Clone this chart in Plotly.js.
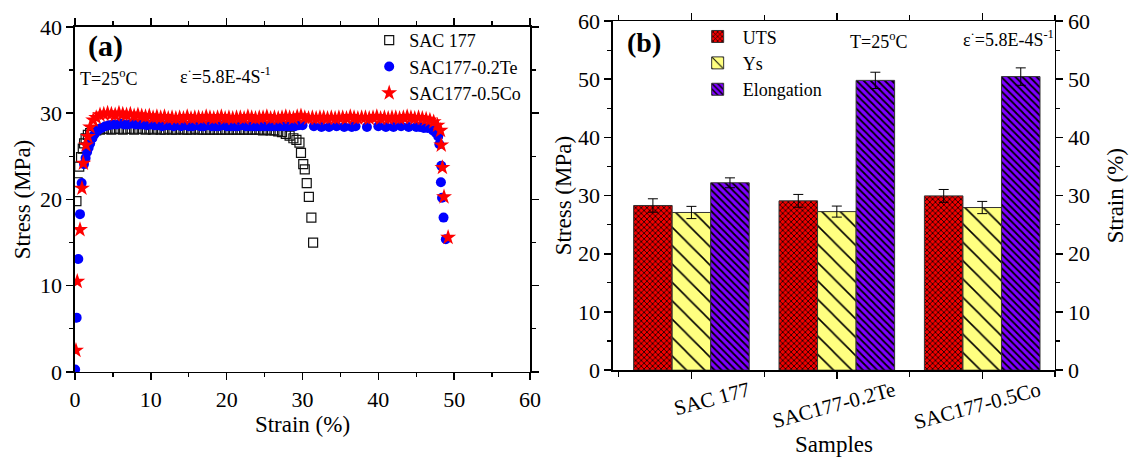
<!DOCTYPE html>
<html>
<head>
<meta charset="utf-8">
<script src="https://cdn.plot.ly/plotly-3.0.1.min.js"></script>
<style>html,body{margin:0;padding:0;background:#fff;}#chart{width:1143px;height:457px;}</style>
</head>
<body>
<div id="chart"></div>
<script>
// ---------- Panel (a): stress-strain curves ----------
const sacStrain = [0.19,0.35,0.56,0.80,1.03,1.20,1.40,1.70,2.00,2.40,2.80,3.30,3.80,
  4.3,4.8,5.3,5.8,6.3,6.8,7.3,7.8,8.3,8.8,9.3,9.8,10.3,10.8,11.3,11.8,12.3,12.8,13.3,13.8,
  14.3,14.8,15.3,15.8,16.3,16.8,17.3,17.8,18.3,18.8,19.3,19.8,20.3,20.8,21.3,21.8,22.3,22.8,
  23.3,23.8,24.3,24.8,25.3,25.8,26.3,26.8,27.3,27.8,28.3,28.8,
  29.2,29.6,29.8,30.1,30.3,30.56,30.84,31.17,31.4];
const sacStress = [19.8,22.0,23.8,24.9,25.9,26.5,27.1,27.5,27.7,27.9,28.0,28.1,28.2,
  28.2,28.1,28.2,28.2,28.1,28.2,28.2,28.1,28.2,28.2,28.1,28.2,28.1,28.2,28.1,28.1,28.2,28.1,28.1,28.2,
  28.1,28.1,28.1,28.2,28.1,28.1,28.1,28.1,28.1,28.1,28.1,28.1,28.1,28.1,28.1,28.1,28.1,28.1,
  28.1,28.1,28.1,28.0,28.1,28.0,28.0,27.9,27.8,27.6,27.4,27.1,
  26.9,26.6,25.4,24.1,23.5,21.9,20.3,17.9,15.0];

const teStrain = [0.02,0.22,0.44,0.66,0.88,1.19,1.40,1.60,1.80,2.00,2.30,2.60,3.00,3.50,
  4.0,4.5,5.0,5.5,6.0,6.5,7.0,7.5,8.0,8.5,9.0,9.5,10.0,
  10.5,11.0,11.5,12.0,12.5,13.0,13.5,14.0,14.5,15.0,15.5,16.0,16.5,17.0,17.5,18.0,18.5,19.0,19.5,20.0,
  20.5,21.0,21.5,22.0,22.5,23.0,23.5,24.0,24.5,25.0,25.5,26.0,26.5,27.0,27.5,28.0,28.5,29.0,29.5,30.0,
  31.5,32.5,33.5,34.5,35.5,36.5,37.0,38.5,40.0,41.0,42.0,43.0,44.0,45.0,45.5,46.0,46.5,
  47.2,47.6,47.9,48.05,48.3,48.25,48.4,48.6,48.9];
const teStress = [0.3,6.3,13.1,18.3,21.9,24.1,24.8,25.5,26.0,26.5,27.1,27.6,28.0,28.3,
  28.5,28.6,28.7,28.7,28.8,28.7,28.7,28.8,28.7,28.7,28.7,28.6,28.7,
  28.6,28.6,28.5,28.6,28.6,28.5,28.6,28.5,28.6,28.5,28.5,28.6,28.5,28.5,28.6,28.5,28.5,28.5,28.6,28.5,
  28.5,28.5,28.5,28.6,28.5,28.5,28.5,28.5,28.5,28.5,28.5,28.5,28.5,28.5,28.5,28.5,28.5,28.5,28.6,28.6,
  28.5,28.4,28.4,28.5,28.4,28.4,28.5,28.4,28.5,28.4,28.4,28.5,28.4,28.4,28.4,28.3,28.3,
  28.0,27.7,27.3,26.4,23.9,22.0,20.2,17.9,15.4];

const coStrain = [0.13,0.30,0.66,0.92,1.10,1.45,1.70,2.00,2.40,2.80,3.30,
  3.8,4.3,4.8,5.3,5.8,6.3,6.8,7.3,7.8,8.3,8.8,9.3,9.8,10.3,10.8,11.3,11.8,12.3,12.8,13.3,
  13.8,14.3,14.8,15.3,15.8,16.3,16.8,17.3,17.8,18.3,18.8,19.3,19.8,20.3,20.8,21.3,21.8,22.3,22.8,23.3,
  23.8,24.3,24.8,25.3,25.8,26.3,26.8,27.3,27.8,28.3,28.8,29.3,29.8,30.3,30.8,31.3,31.8,32.3,32.8,33.3,
  33.8,34.3,34.8,35.3,35.8,36.3,36.8,37.3,37.8,38.3,38.8,39.3,39.8,40.3,40.8,41.3,41.8,42.3,42.8,43.3,
  43.8,44.3,44.8,45.3,45.8,46.3,46.8,47.3,
  47.8,48.2,48.3,48.45,48.66,49.2];
const coStress = [2.5,10.5,16.5,21.3,24.2,26.3,27.3,28.4,29.2,29.5,29.8,
  29.9,30.0,29.9,29.8,30.0,29.9,29.8,29.9,29.7,29.8,29.7,29.6,29.7,29.5,29.6,29.5,29.6,29.4,29.5,29.4,
  29.5,29.4,29.6,29.4,29.5,29.5,29.4,29.6,29.5,29.4,29.5,29.6,29.4,29.5,29.4,29.5,29.5,29.4,29.6,29.5,
  29.4,29.5,29.5,29.6,29.4,29.5,29.4,29.5,29.6,29.5,29.4,29.6,29.7,29.5,29.4,29.5,29.4,29.5,29.5,29.4,
  29.5,29.4,29.5,29.5,29.4,29.6,29.5,29.4,29.5,29.5,29.4,29.5,29.6,29.4,29.5,29.4,29.5,29.5,29.4,29.5,
  29.6,29.5,29.4,29.5,29.4,29.3,29.2,29.0,
  28.6,28.0,26.3,23.7,20.3,15.6];

// ---------- Panel (b): property bars ----------
const samples = ['SAC 177','SAC177-0.2Te','SAC177-0.5Co'];
const utsVals = [28.3,29.1,29.95];
const utsErr  = [1.15,1.1,1.1];
const ysVals  = [27.1,27.25,27.95];
const ysErr   = [1.05,0.95,1.05];
const elongVals = [32.2,49.8,50.45];
const elongErr  = [0.85,1.4,1.5];

const FONT = 'Liberation Serif, Times New Roman, serif';
const samplePos = samples.map((_, i) => i);

const traces = [
  {type:'scatter', mode:'markers', name:'SAC 177', x:sacStrain, y:sacStress, xaxis:'x', yaxis:'y',
   marker:{symbol:'square-open', size:9, color:'#111', line:{width:1.2, color:'#111'}}, legend:'legend'},
  {type:'scatter', mode:'markers', name:'SAC177-0.2Te', x:teStrain, y:teStress, xaxis:'x', yaxis:'y',
   marker:{symbol:'circle', size:10, color:'#0000FF'}, legend:'legend'},
  {type:'scatter', mode:'markers', name:'SAC177-0.5Co', x:coStrain, y:coStress, xaxis:'x', yaxis:'y',
   marker:{symbol:'star', size:12, color:'#FF0000'}, legend:'legend'},
  {type:'bar', name:'UTS', x:samplePos, y:utsVals, xaxis:'x2', yaxis:'y2', width:0.265, offset:-0.398,
   marker:{color:'#FF0000', line:{color:'#333', width:1},
     pattern:{shape:'x', size:4, solidity:0.35, fgcolor:'#000', bgcolor:'#F00000', fillmode:'replace'}},
   error_y:{type:'data', array:utsErr, visible:true, color:'#000', thickness:1, width:5}, legend:'legend2'},
  {type:'bar', name:'Ys', x:samplePos, y:ysVals, xaxis:'x2', yaxis:'y2', width:0.265, offset:-0.133,
   marker:{color:'#FFFF80', line:{color:'#333', width:1},
     pattern:{shape:'\\', size:13, solidity:0.12, fgcolor:'#000', bgcolor:'#FFFF80', fillmode:'replace'}},
   error_y:{type:'data', array:ysErr, visible:true, color:'#000', thickness:1, width:5}, legend:'legend2'},
  {type:'bar', name:'Elongation', x:samplePos, y:elongVals, xaxis:'x2', yaxis:'y3', width:0.265, offset:0.132,
   marker:{color:'#7F00FF', line:{color:'#333', width:1},
     pattern:{shape:'\\', size:5, solidity:0.35, fgcolor:'#000', bgcolor:'#7F00FF', fillmode:'replace'}},
   error_y:{type:'data', array:elongErr, visible:true, color:'#000', thickness:1, width:5}, legend:'legend2'}
];

const TICKF = {family:FONT, size:22, color:'#000'};
const TITLEF = {family:FONT, size:23, color:'#000'};
const MINOR = {dtick:5, ticklen:4, ticks:'outside', tickwidth:1.2, tickcolor:'#000'};
const axBase = {showline:true, linewidth:1.5, linecolor:'#000', ticks:'outside', ticklen:7, tickwidth:1.5,
  tickcolor:'#000', showgrid:false, zeroline:false, tickfont:TICKF};

const annotations = [
  {xref:'paper', yref:'paper', x:0.075, y:0.94, xanchor:'left', yanchor:'top', showarrow:false,
   text:'<b>(a)</b>', font:{family:FONT, size:30}},
  {xref:'paper', yref:'paper', x:0.068, y:0.86, xanchor:'left', yanchor:'top', showarrow:false,
   text:'T=25<sup>o</sup>C', font:{family:FONT, size:18}},
  {xref:'paper', yref:'paper', x:0.156, y:0.865, xanchor:'left', yanchor:'top', showarrow:false,
   text:'ε<sup>·</sup>=5.8E-4S<sup>-1</sup>', font:{family:FONT, size:18}},
  {xref:'paper', yref:'paper', x:0.547, y:0.945, xanchor:'left', yanchor:'top', showarrow:false,
   text:'<b>(b)</b>', font:{family:FONT, size:28}},
  {xref:'paper', yref:'paper', x:0.742, y:0.94, xanchor:'left', yanchor:'top', showarrow:false,
   text:'T=25<sup>o</sup>C', font:{family:FONT, size:18}},
  {xref:'paper', yref:'paper', x:0.841, y:0.945, xanchor:'left', yanchor:'top', showarrow:false,
   text:'ε<sup>·</sup>=5.8E-4S<sup>-1</sup>', font:{family:FONT, size:18}}
];

const layout = {
  width:1143, height:457, margin:{l:0, r:0, t:0, b:0},
  paper_bgcolor:'#fff', plot_bgcolor:'#fff',
  font:{family:FONT, size:18, color:'#000'},
  barmode:'overlay',
  xaxis:Object.assign({}, axBase, {domain:[0.0656,0.4637], range:[0,60], dtick:10, anchor:'y', mirror:'ticks',
    minor:MINOR, title:{text:'Strain (%)', font:TITLEF, standoff:2}}),
  yaxis:Object.assign({}, axBase, {domain:[0.186,0.941], range:[0,40], dtick:10, anchor:'x', mirror:'ticks',
    minor:MINOR, title:{text:'Stress (MPa)', font:TITLEF, standoff:3}}),
  xaxis2:Object.assign({}, axBase, {domain:[0.5363,0.923], range:[-0.54,2.5], tickmode:'array', tickvals:samplePos,
    ticktext:samples, tickangle:-15, ticklabelshift:57, ticklabelstandoff:-8,
    tickfont:{family:FONT, size:21, color:'#000'}, anchor:'y2', mirror:'ticks',
    minor:{tick0:0.5, dtick:1, ticklen:5, ticks:'outside', tickwidth:1.2, tickcolor:'#000'},
    title:{text:'Samples', font:TITLEF, standoff:8}}),
  yaxis2:Object.assign({}, axBase, {domain:[0.19,0.954], range:[0,60], dtick:10, anchor:'x2', side:'left',
    minor:MINOR, title:{text:'Stress (MPa)', font:TITLEF, standoff:0}}),
  yaxis3:Object.assign({}, axBase, {range:[0,60], dtick:10, anchor:'x2', overlaying:'y2', side:'right',
    minor:MINOR, title:{text:'Strain (%)', font:TITLEF, standoff:18}}),
  legend:{x:0.323, y:0.952, xanchor:'left', yanchor:'top', bgcolor:'rgba(0,0,0,0)',
    font:{family:FONT, size:18, color:'#000'}, tracegroupgap:0, itemwidth:30},
  legend2:{x:0.606, y:0.96, xanchor:'left', yanchor:'top', bgcolor:'rgba(0,0,0,0)',
    font:{family:FONT, size:18, color:'#000'}, tracegroupgap:0, itemwidth:40},
  annotations:annotations
};

Plotly.newPlot('chart', traces, layout, {displayModeBar:false, staticPlot:true});
</script>
</body>
</html>
